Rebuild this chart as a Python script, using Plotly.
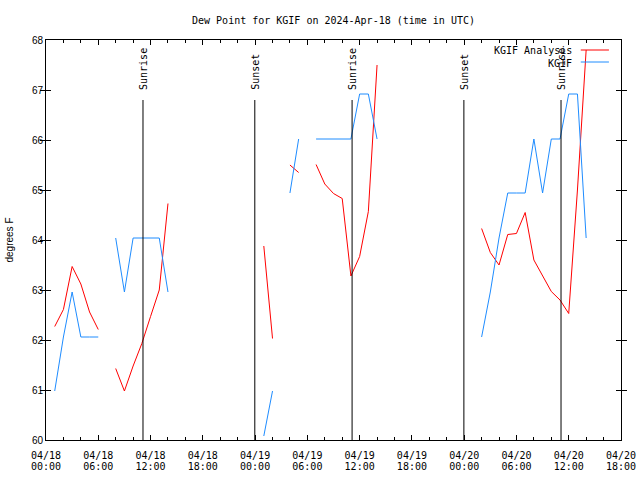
import plotly.graph_objects as go
import pandas as pd

N = None
start = pd.Timestamp("2024-04-18 00:00")

# hourly samples, hours since 2024-04-18 00:00 UTC
hours = list(range(0, 63))

analysis_dewpt = [
    N, 62.27, 62.61, 63.47, 63.12, 62.56, 62.21, N,
    61.43, 60.98, 61.48, 61.93, 62.47, 63.00, 64.73,
    N, N, N, N, N, N, N, N, N, N,
    63.88, 62.03, N, 65.50, 65.35, N,
    65.51, 65.12, 64.93, 64.83, 63.28, 63.67, 64.57, 67.50,
    N, N, N, N, N, N, N, N, N, N, N,
    64.23, 63.75, 63.50, 64.11, 64.13, 64.55, 63.60, 63.27, 62.97, 62.80, 62.53, 65.00, 67.80,
]

obs_dewpt = [
    N, 60.98, 62.06, 62.96, 62.06, 62.06, 62.06, N,
    64.04, 62.96, 64.04, 64.04, 64.04, 64.04, 62.96,
    N, N, N, N, N, N, N, N, N, N,
    60.08, 60.98, N, 64.94, 66.02, N,
    66.02, 66.02, 66.02, 66.02, 66.02, 66.92, 66.92, 66.02,
    N, N, N, N, N, N, N, N, N, N, N,
    62.06, 62.96, 64.04, 64.94, 64.94, 64.94, 66.02, 64.94, 66.02, 66.02, 66.92, 66.92, 64.04,
]

sun_times = ["2024-04-18 11:08", "2024-04-18 23:58", "2024-04-19 11:08",
             "2024-04-19 23:58", "2024-04-20 11:07"]
sun_labels = ["Sunrise", "Sunset", "Sunrise", "Sunset", "Sunrise"]
sun_line_top = 66.8
sun_label_base = 66.96

tick_hours = list(range(0, 67, 6))
tick_dates = ["04/18", "04/18", "04/18", "04/18", "04/19", "04/19",
              "04/19", "04/19", "04/20", "04/20", "04/20", "04/20"]
tick_clock = ["00:00", "06:00", "12:00", "18:00"] * 3
minor_hours = list(range(0, 67, 2))

series_names = ["KGIF Analysis", "KGIF"]
series_colors = ["#ff0000", "#1e8cff"]

times = [start + pd.Timedelta(hours=h) for h in hours]
xrange_ = [start, start + pd.Timedelta(hours=66)]
tickpos = [start + pd.Timedelta(hours=h) for h in tick_hours]

mono = "DejaVu Sans Mono"
fig = go.Figure()
for name, vals, col in zip(series_names, [analysis_dewpt, obs_dewpt], series_colors):
    fig.add_trace(go.Scatter(x=times, y=vals, mode="lines", name=name,
                             line=dict(color=col, width=1), connectgaps=False,
                             showlegend=False))
# invisible helper trace so the second (time-of-day) label axis renders
fig.add_trace(go.Scatter(x=[xrange_[0]], y=[None], xaxis="x2", mode="lines",
                         showlegend=False, hoverinfo="skip"))

for t, lab in zip(sun_times, sun_labels):
    fig.add_shape(type="line", xref="x", yref="y", x0=t, x1=t, y0=60, y1=sun_line_top,
                  line=dict(color="black", width=1))
    fig.add_annotation(x=t, y=sun_label_base, xref="x", yref="y", text=lab,
                       textangle=-90, showarrow=False, xanchor="center", yanchor="bottom",
                       font=dict(family=mono, size=10, color="black"))

# manual legend (text left of the line sample, gnuplot style)
leg_y = [0.9725, 0.9425]
for name, col, yy in zip(series_names, series_colors, leg_y):
    fig.add_annotation(x=0.918, y=yy, xref="paper", yref="paper", text=name,
                       showarrow=False, xanchor="right", yanchor="middle",
                       font=dict(family=mono, size=10, color="black"))
    fig.add_shape(type="line", xref="paper", yref="paper", x0=0.930, x1=0.979,
                  y0=yy + 0.0025, y1=yy + 0.0025, line=dict(color=col, width=1))

fig.update_layout(
    width=640, height=480,
    paper_bgcolor="white", plot_bgcolor="white",
    margin=dict(l=46, r=19, t=40, b=40, autoexpand=False),
    title=dict(text="Dew Point for KGIF on 2024-Apr-18 (time in UTC)", automargin=False,
               x=0.5, xref="paper", y=0.958, yref="container", xanchor="center", yanchor="middle",
               font=dict(family=mono, size=10, color="black")),
    showlegend=False,
    hovermode=False,
    xaxis=dict(
        range=xrange_, automargin=False,
        tickmode="array", tickvals=tickpos, ticktext=tick_dates,
        ticks="inside", ticklen=5, tickcolor="black",
        minor=dict(tickmode="array",
                   tickvals=[start + pd.Timedelta(hours=h) for h in minor_hours],
                   ticks="inside", ticklen=3, tickcolor="black", showgrid=False),
        showline=True, linecolor="black", linewidth=1, mirror="allticks",
        showgrid=False, zeroline=False,
        tickfont=dict(family=mono, size=10, color="black"),
        ticklabelstandoff=6,
    ),
    xaxis2=dict(
        overlaying="x", anchor="y", side="bottom", range=xrange_, automargin=False,
        tickmode="array", tickvals=tickpos, ticktext=tick_clock,
        ticks="", showline=False, showgrid=False, zeroline=False,
        tickfont=dict(family=mono, size=10, color="black"),
        ticklabelstandoff=19,
    ),
    yaxis=dict(
        range=[60, 68], dtick=1, tick0=60, automargin=False,
        ticks="inside", ticklen=5, tickcolor="black",
        showline=True, linecolor="black", linewidth=1, mirror="allticks",
        showgrid=False, zeroline=False,
        tickfont=dict(family="Liberation Sans", size=10, color="black"),
        title=dict(text="degrees F", font=dict(family="Liberation Sans", size=10, color="black"),
                   standoff=16),
    ),
)

fig.write_html("out.html", config={"displayModeBar": False},
               post_script="document.body.style.margin='0';")
